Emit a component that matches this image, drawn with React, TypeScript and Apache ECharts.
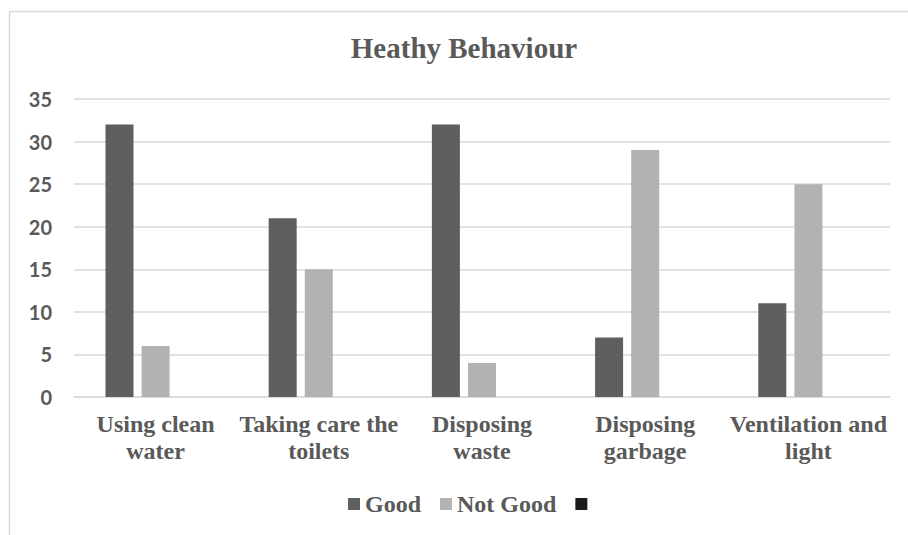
import React, { useEffect, useRef } from "react";
import * as echarts from "echarts";

const categories = [
  "Using clean\nwater",
  "Taking care the\ntoilets",
  "Disposing\nwaste",
  "Disposing\ngarbage",
  "Ventilation and\nlight",
];
const goodValues = [32, 21, 32, 7, 11];
const notGoodValues = [6, 15, 4, 29, 25];
const emptyValues = [0, 0, 0, 0, 0];
const yTicks = { min: 0, max: 35, interval: 5 };

export default function App() {
  const ref = useRef<HTMLDivElement>(null);
  useEffect(() => {
    if (!ref.current) return;
    const chart = echarts.init(ref.current, null, { renderer: "svg" });
    const serif = "'Liberation Serif', 'Times New Roman', serif";
    chart.setOption({
      animation: false,
      backgroundColor: "#ffffff",
      title: {
        text: "Heathy Behaviour",
        left: 459,
        textAlign: "center",
        top: 28,
        textStyle: {
          fontFamily: serif,
          fontWeight: "bold",
          fontSize: 29,
          color: "#595959",
        },
      },
      graphic: [
        {
          type: "line",
          shape: { x1: 9.5, y1: 11.5, x2: 908, y2: 11.5 },
          style: { stroke: "#d9d9d9", lineWidth: 1.5 },
          silent: true,
        },
        {
          type: "line",
          shape: { x1: 9.5, y1: 11.5, x2: 9.5, y2: 535 },
          style: { stroke: "#d9d9d9", lineWidth: 1.5 },
          silent: true,
        },
      ],
      legend: {
        left: 343,
        top: 487,
        itemWidth: 12,
        itemHeight: 12,
        itemGap: 19,
        icon: "rect",
        textStyle: {
          fontFamily: serif,
          fontWeight: "bold",
          fontSize: 24,
          color: "#595959",
        },
        data: ["Good", "Not Good", " "],
      },
      grid: { left: 74, right: 18, top: 99, bottom: 138, containLabel: false },
      xAxis: {
        type: "category",
        data: categories,
        axisLine: { lineStyle: { color: "#d9d9d9", width: 1.5 } },
        axisTick: { show: false },
        axisLabel: {
          interval: 0,
          margin: 13,
          fontFamily: serif,
          fontWeight: "bold",
          fontSize: 24,
          lineHeight: 27,
          color: "#595959",
        },
      },
      yAxis: {
        type: "value",
        min: yTicks.min,
        max: yTicks.max,
        interval: yTicks.interval,
        axisLine: { show: false },
        axisTick: { show: false },
        splitLine: { lineStyle: { color: "#d9d9d9", width: 1.5 } },
        axisLabel: {
          margin: 22,
          fontFamily: "Lato, 'Open Sans', sans-serif",
          fontWeight: "bold",
          fontSize: 20,
          color: "#595959",
        },
      },
      series: [
        {
          name: "Good",
          type: "bar",
          data: goodValues,
          barWidth: 28,
          barGap: "29%",
          itemStyle: { color: "#5f5f5f" },
        },
        {
          name: "Not Good",
          type: "bar",
          data: notGoodValues,
          barWidth: 28,
          barGap: "29%",
          itemStyle: { color: "#b2b2b2" },
        },
        {
          name: " ",
          type: "bar",
          data: emptyValues,
          barWidth: 28,
          barGap: "29%",
          itemStyle: { color: "#1a1a1a" },
        },
      ],
    });
    return () => chart.dispose();
  }, []);
  return (
    <div
      ref={ref}
      style={{ position: "fixed", left: 0, top: 0, width: 908, height: 535 }}
    />
  );
}
